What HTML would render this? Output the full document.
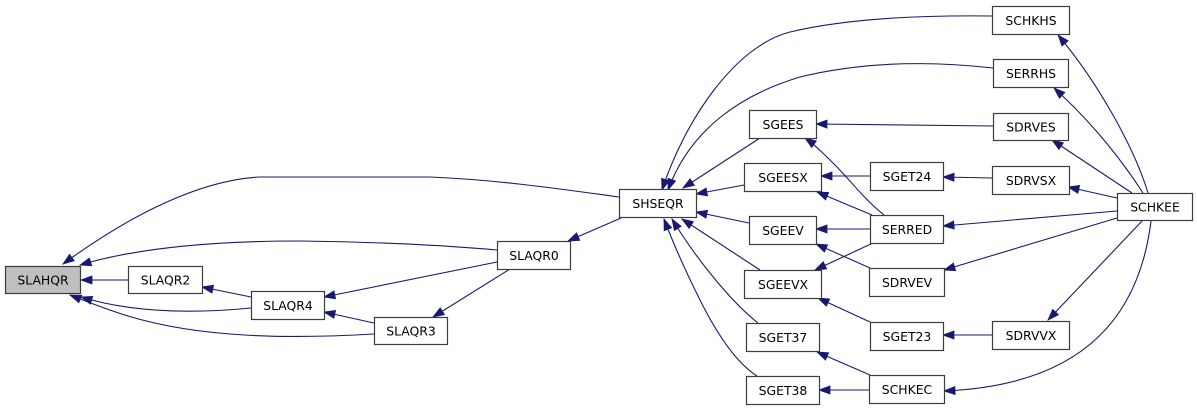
<!DOCTYPE html>
<html>
<head>
<meta charset="utf-8">
<style>
html,body{margin:0;padding:0;background:#ffffff;}
svg{display:block;}
text{font-family:"DejaVu Sans","Liberation Sans",sans-serif;font-size:12.4px;fill:#000;text-anchor:middle;}
.b{fill:#ffffff;stroke:#3c3c3c;stroke-width:1.2;}
.e{fill:none;stroke:#191970;stroke-width:1.1;marker-end:url(#ah);}
</style>
</head>
<body>
<svg width="1197" height="411" viewBox="0 0 1197 411" xmlns="http://www.w3.org/2000/svg">
<defs>
<marker id="ah" markerUnits="userSpaceOnUse" markerWidth="12" markerHeight="9" refX="11" refY="4" orient="auto" overflow="visible">
<path d="M0,0 L11,4 L0,8 z" fill="#191970" stroke="#191970" stroke-width="0.8"/>
</marker>
</defs>
<rect x="0" y="0" width="1197" height="411" fill="#ffffff"/>

<!-- edges -->
<path class="e" d="M128,280 L81,280"/>
<path class="e" d="M251,308 C190,314 130,312 81,297"/>
<path class="e" d="M374,334 C290,339 200,338 128,316 C105,309 88,302 70,295"/>
<path class="e" d="M497,250 C440,245 380,242 300,241 C200,241 130,250 80,265"/>
<path class="e" d="M619,197 C560,189 500,180 430,177 L260,177 C200,180 130,215 63,264"/>
<path class="e" d="M251,297 L202,287"/>
<path class="e" d="M497,262 L324,297"/>
<path class="e" d="M374,323 L324,312"/>
<path class="e" d="M510,269 L433,317"/>
<path class="e" d="M621,218 L568,241"/>

<path class="e" d="M992,16 C910,15 840,20 790,32 C735,46 685,120 662,190"/>
<path class="e" d="M993,68 C940,62 870,60 800,77 C740,95 690,130 668,190"/>
<path class="e" d="M760,138 L683,188"/>
<path class="e" d="M744,185 L696,194"/>
<path class="e" d="M749,223 L696,212"/>
<path class="e" d="M760,270 L682,219"/>
<path class="e" d="M758,323 C735,305 700,265 672,219"/>
<path class="e" d="M757,376 C735,362 715,330 700,300 C685,270 672,240 664,219"/>

<path class="e" d="M993,126 L816,124"/>
<path class="e" d="M884,215 C865,200 850,180 835,165 C825,155 815,145 805,138"/>
<path class="e" d="M870,176 L821,176"/>
<path class="e" d="M872,215 L817,192"/>
<path class="e" d="M870,229 L816,229"/>
<path class="e" d="M870,268 L816,244"/>
<path class="e" d="M873,243 L815,270"/>
<path class="e" d="M870,322 L818,298"/>
<path class="e" d="M870,375 L817,352"/>
<path class="e" d="M869,390 L819,390"/>
<path class="e" d="M992,178 L943,177"/>
<path class="e" d="M992,335 L943,335"/>

<path class="e" d="M1148,193 C1135,150 1100,85 1058,35"/>
<path class="e" d="M1143,193 C1125,165 1095,125 1054,88"/>
<path class="e" d="M1132,193 L1052,140"/>
<path class="e" d="M1117,198 L1068,187"/>
<path class="e" d="M1117,211 L943,226"/>
<path class="e" d="M1117,218 L944,270"/>
<path class="e" d="M1142,221 L1048,320"/>
<path class="e" d="M1151,221 C1140,310 1090,385 944,391"/>

<!-- nodes -->
<rect x="5.5" y="266.5" width="75" height="27" fill="#bfbfbf" stroke="#3c3c3c" stroke-width="1.2"/>
<text x="43" y="284.5">SLAHQR</text>

<rect class="b" x="128.5" y="266.5" width="74" height="27"/>
<text x="165.5" y="284.5">SLAQR2</text>

<rect class="b" x="251.5" y="291.5" width="73" height="28"/>
<text x="288" y="310">SLAQR4</text>

<rect class="b" x="374.5" y="317.5" width="73" height="27"/>
<text x="411" y="335.5">SLAQR3</text>

<rect class="b" x="497.5" y="241.5" width="73" height="28"/>
<text x="534" y="260">SLAQR0</text>

<rect class="b" x="619.5" y="189.5" width="77" height="28"/>
<text x="658" y="208">SHSEQR</text>

<rect class="b" x="749.5" y="110.5" width="67" height="28"/>
<text x="783" y="129">SGEES</text>

<rect class="b" x="744.5" y="163.5" width="77" height="28"/>
<text x="783" y="182">SGEESX</text>

<rect class="b" x="749.5" y="216.5" width="67" height="28"/>
<text x="783" y="235">SGEEV</text>

<rect class="b" x="744.5" y="270.5" width="77" height="28"/>
<text x="783" y="289">SGEEVX</text>

<rect class="b" x="746.5" y="323.5" width="73" height="28"/>
<text x="783" y="342">SGET37</text>

<rect class="b" x="746.5" y="376.5" width="73" height="28"/>
<text x="783" y="395">SGET38</text>

<rect class="b" x="992.5" y="6.5" width="77" height="28"/>
<text x="1031" y="25">SCHKHS</text>

<rect class="b" x="993.5" y="59.5" width="75" height="28"/>
<text x="1031" y="78">SERRHS</text>

<rect class="b" x="993.5" y="113.5" width="75" height="27"/>
<text x="1031" y="131.5">SDRVES</text>

<rect class="b" x="870.5" y="162.5" width="73" height="28"/>
<text x="907" y="181">SGET24</text>

<rect class="b" x="992.5" y="166.5" width="77" height="28"/>
<text x="1031" y="185">SDRVSX</text>

<rect class="b" x="870.5" y="215.5" width="73" height="28"/>
<text x="907" y="234">SERRED</text>

<rect class="b" x="869.5" y="268.5" width="75" height="28"/>
<text x="907" y="287">SDRVEV</text>

<rect class="b" x="870.5" y="322.5" width="73" height="28"/>
<text x="907" y="341">SGET23</text>

<rect class="b" x="992.5" y="321.5" width="77" height="28"/>
<text x="1031" y="340">SDRVVX</text>

<rect class="b" x="869.5" y="375.5" width="75" height="28"/>
<text x="907" y="394">SCHKEC</text>

<rect class="b" x="1117.5" y="193.5" width="75" height="27"/>
<text x="1155" y="211.5">SCHKEE</text>
</svg>
</body>
</html>
